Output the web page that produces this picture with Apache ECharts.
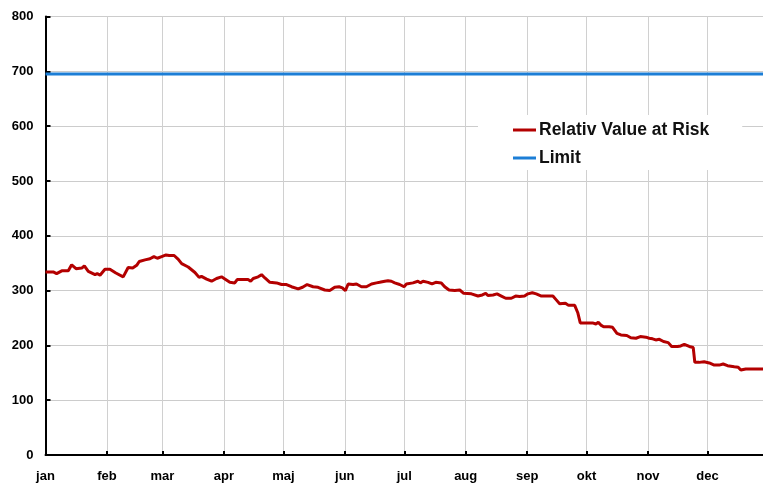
<!DOCTYPE html>
<html>
<head>
<meta charset="utf-8">
<script src="https://cdn.jsdelivr.net/npm/echarts@6/dist/echarts.min.js"></script>
<style>
html,body{margin:0;padding:0;background:#fff;}
#c{width:763px;height:486px;}
</style>
</head>
<body>
<div id="c"></div>
<script>
// Month names and day-of-year where each month starts
const monthNames = ['jan','feb','mar','apr','maj','jun','jul','aug','sep','okt','nov','dec'];
const monthStarts = [0,31,59,90,120,151,181,212,243,273,304,334];
const yTicks = [0,100,200,300,400,500,600,700,800];

// Relativ Value at Risk: day of year and value
const varDays = [0,3.9,5.6,8.2,11.5,13.2,15.4,18.3,19.6,21.6,25,26.1,27.5,30,32.5,35.5,39.2,41.7,44,46,47.3,50.2,52.7,54.7,56.4,58.6,60.8,62.4,63.3,64.9,67,68.7,72,75.4,77.5,78.7,81.3,83.8,86.3,88.8,90.5,
93,95.5,96.7,99.7,102.2,103.5,104.8,107.3,109,110.7,113.2,116.6,119.1,121.6,124.1,127.5,129.7,132,135,137.5,140.9,143.4,145.9,148.1,149.8,151.3,152.7,155.2,156.9,159.4,161.9,164.5,167,168.6,171.2,172.8,174.5,176.2,178.7,180.9,
182.1,185.4,187.9,189.1,190.5,193,195,196.9,199.7,201.4,203.6,206.5,209,211,214.9,218.2,220.4,222.1,223.2,225.8,227.8,230,232.2,235,237.2,239.2,241.7,243.4,245.6,247.6,250.2,252.7,256,257.7,259.4,262.3,263.9,267,268.6,269.8,
272.6,276,277.7,278.9,280.2,281.6,284.4,286.1,288.3,290.3,293.3,295.3,297.9,300.1,302.9,304.6,306.3,307.9,309.7,311.8,314.2,315.9,318.9,320.5,322.3,324.8,326.8,327.6,329.8,332.3,334.9,337.4,339.9,341.9,344.1,347.5,349.5,350.8,353.3,355.8,362];
const varValues = [334,334,331,336,336,347,340,341,345,335,329,331,328,339,339,332,325,342,341,346,353,356,358,362,359,362,365,364,367,364,357,349,343,333,324,326,321,317,322,325,321,
315,314,320,320,320,317,322,325,329,323,315,314,311,311,307,303,306,311,307,306,301,300,306,307,305,300,312,311,312,307,307,312,314,315,317,318,317,314,311,307,
312,314,317,314,317,315,312,315,314,307,301,300,301,295,294,290,292,295,291,292,294,290,286,286,290,289,290,294,296,294,290,290,290,283,276,277,273,273,259,241,
241,241,239,242,237,234,234,233,222,219,218,214,213,216,215,213,212,210,211,207,205,198,198,199,202,198,196,169,169,170,168,164,164,166,163,161,160,155,157,157,157];

// Limit
const limitDays = [0, 362];
const limitValues = [695, 695];

const zip = (a, b) => a.map((v, i) => [v, b[i]]);

const chart = echarts.init(document.getElementById('c'), null, {renderer: 'canvas'});
const labelFont = {fontFamily: '"Liberation Sans", Arial, sans-serif', fontWeight: 'bold', fontSize: 13, color: '#000'};

chart.setOption({
  animation: false,
  backgroundColor: '#fff',
  grid: {left: 45.5, right: 0, top: 16.5, bottom: 31, containLabel: false},
  xAxis: {
    type: 'value', min: 0, max: 362,
    axisLine: {show: true, onZero: false, lineStyle: {color: '#000', width: 2}},
    axisTick: {show: true, inside: true, length: 4, lineStyle: {color: '#000', width: 2}, customValues: monthStarts},
    axisLabel: Object.assign({margin: 15, customValues: monthStarts,
      formatter: v => monthNames[monthStarts.indexOf(Math.round(v))] || ''}, labelFont),
    splitLine: {show: true, lineStyle: {color: '#d0d0d0', width: 1}}
  },
  yAxis: {
    type: 'value', min: 0, max: 800, interval: 100,
    axisLine: {show: true, lineStyle: {color: '#000', width: 2}},
    axisTick: {show: true, inside: true, length: 5, lineStyle: {color: '#000', width: 2}},
    axisLabel: Object.assign({margin: 12, customValues: yTicks}, labelFont),
    splitLine: {show: true, lineStyle: {color: '#cccccc', width: 1}}
  },
  legend: {
    orient: 'vertical', left: 478, top: 115,
    backgroundColor: '#fff',
    padding: [6, 33, 3, 35],
    icon: 'rect',
    itemWidth: 23, itemHeight: 3, itemGap: 10,
    textStyle: {fontFamily: '"Liberation Sans", Arial, sans-serif', fontWeight: 'bold', fontSize: 17.5, color: '#111', padding: [0,0,0,-2]},
    data: ['Relativ Value at Risk', 'Limit']
  },
  series: [
    {name: 'Relativ Value at Risk', type: 'line', symbol: 'none', data: zip(varDays, varValues),
     lineStyle: {color: '#b30000', width: 3}, itemStyle: {color: '#b30000'}, z: 3},
    {name: 'Limit', type: 'line', symbol: 'none', data: zip(limitDays, limitValues),
     lineStyle: {color: '#1c7ed6', width: 3}, itemStyle: {color: '#1c7ed6'}, z: 2}
  ]
});
</script>
</body>
</html>
